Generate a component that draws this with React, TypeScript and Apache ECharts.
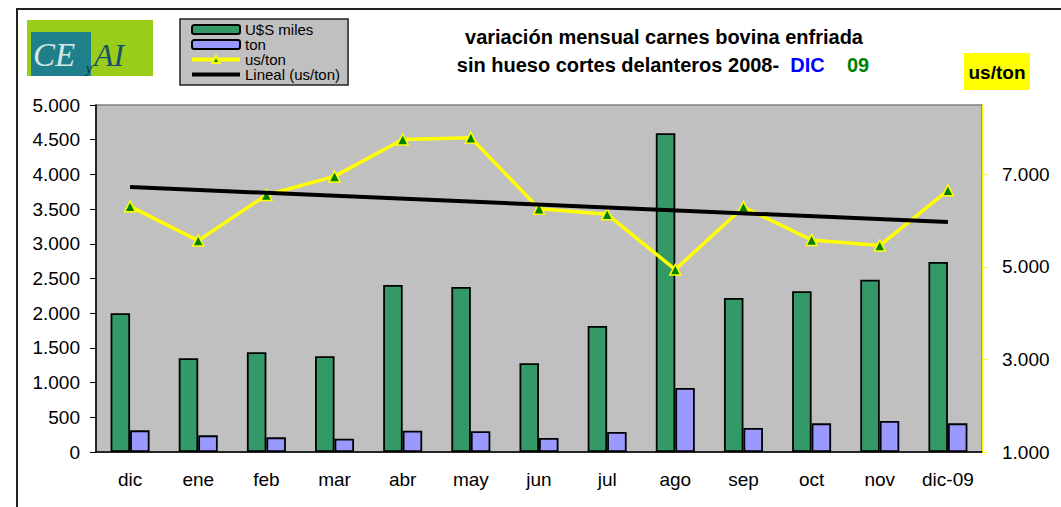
import React, { useEffect, useRef } from "react";
import * as echarts from "echarts";

const categories = ["dic", "ene", "feb", "mar", "abr", "may", "jun", "jul", "ago", "sep", "oct", "nov", "dic-09"];
const usdMiles = [2000, 1350, 1437, 1379, 2406, 2378, 1278, 1816, 4592, 2219, 2316, 2483, 2738];
const tons = [312, 240, 211, 192, 307, 298, 202, 288, 922, 346, 413, 447, 413];
const usPerTon = [6310, 5569, 6554, 6957, 7756, 7793, 6260, 6137, 4943, 6295, 5583, 5461, 6655];
const trendLine = [6727, null, null, null, null, null, null, null, null, null, null, null, 5971];

const titleLine1 = "variación mensual carnes bovina enfriada";
const titleLine2 = "sin hueso cortes delanteros 2008-";
const titleMonth = "DIC";
const titleYear = "09";
const unitLabel = "us/ton";

const FONT = "'Liberation Sans', Arial, sans-serif";
const SERIF = "'Liberation Serif', 'DejaVu Serif', serif";

function fmt(v: number): string {
  if (v >= 1000) {
    const th = Math.floor(v / 1000);
    const rest = String(v % 1000).padStart(3, "0");
    return th + "." + rest;
  }
  return String(v);
}

export default function App() {
  const ref = useRef<HTMLDivElement>(null);
  useEffect(() => {
    if (!ref.current) return;
    const chart = echarts.init(ref.current, undefined, { renderer: "svg" });
    chart.setOption({
      animation: false,
      backgroundColor: "#ffffff",
      textStyle: { fontFamily: FONT },
      grid: {
        left: 96,
        top: 105,
        right: 79,
        bottom: 55,
        show: true,
        backgroundColor: "#C0C0C0",
        borderColor: "#808080",
        borderWidth: 1.5,
      },
      legend: {
        orient: "vertical",
        left: 180,
        top: 19,
        itemWidth: 48,
        itemHeight: 9,
        itemGap: 0,
        padding: [3, 8, 3, 10],
        backgroundColor: "#C0C0C0",
        borderColor: "#222",
        borderWidth: 1.5,
        lineStyle: { width: 4 },
        textStyle: { fontFamily: FONT, fontSize: 15, color: "#000", lineHeight: 15 },
        data: [
          { name: "U$S miles" },
          { name: "ton" },
          { name: "us/ton", lineStyle: { width: 4, color: "#FFFF00" } },
          {
            name: "Lineal (us/ton)",
            lineStyle: { width: 4, color: "#000" },
            itemStyle: { color: "rgba(0,0,0,0)", borderColor: "rgba(0,0,0,0)", borderWidth: 0 },
          },
        ],
      },
      xAxis: {
        type: "category",
        data: categories,
        boundaryGap: true,
        axisLine: { lineStyle: { color: "#000", width: 1.5 } },
        axisTick: { length: 6, lineStyle: { color: "#000" } },
        axisLabel: { fontSize: 19, color: "#000", margin: 18, fontFamily: FONT },
        splitLine: { show: false },
      },
      yAxis: [
        {
          type: "value",
          min: 0,
          max: 5000,
          interval: 500,
          axisLine: { show: true, lineStyle: { color: "#000", width: 1.5 } },
          axisTick: { show: true, length: 6, lineStyle: { color: "#000" } },
          axisLabel: { fontSize: 19, color: "#000", margin: 16, fontFamily: FONT, formatter: (v: number) => fmt(v) },
          splitLine: { show: false },
        },
        {
          type: "value",
          position: "right",
          min: 1000,
          max: 8500,
          interval: 2000,
          axisLine: { show: true, lineStyle: { color: "#FFFF00", width: 1 } },
          axisTick: { show: true, length: 6, lineStyle: { color: "#FFFF00" } },
          axisLabel: {
            fontSize: 19,
            color: "#000",
            margin: 20,
            fontFamily: FONT,
            showMaxLabel: false,
            formatter: (v: number) => (v === 8500 ? "" : fmt(v)),
          },
          splitLine: { show: false },
        },
      ],
      series: [
        {
          name: "U$S miles",
          type: "bar",
          yAxisIndex: 0,
          data: usdMiles,
          barWidth: 19.5,
          barGap: "0%",
          itemStyle: { color: "#339966", borderColor: "#000", borderWidth: 1.8 },
          z: 2,
        },
        {
          name: "ton",
          type: "bar",
          yAxisIndex: 0,
          data: tons,
          barWidth: 19.5,
          barGap: "0%",
          itemStyle: { color: "#9999FF", borderColor: "#000", borderWidth: 1.8 },
          z: 2,
        },
        {
          name: "us/ton",
          type: "line",
          yAxisIndex: 1,
          data: usPerTon,
          symbol: "triangle",
          symbolSize: 11,
          lineStyle: { color: "#FFFF00", width: 3.5 },
          itemStyle: { color: "#008000", borderColor: "#FFFF00", borderWidth: 1.5 },
          z: 4,
        },
        {
          name: "Lineal (us/ton)",
          type: "line",
          yAxisIndex: 1,
          data: trendLine,
          connectNulls: true,
          symbol: "none",
          lineStyle: { color: "#000", width: 4 },
          itemStyle: { color: "#000" },
          z: 5,
        },
      ],
      graphic: [
        {
          type: "rect",
          shape: { x: 17, y: 9, width: 1100, height: 600 },
          style: { fill: "none", stroke: "#222", lineWidth: 2 },
          silent: true,
          z: 0,
        },
        {
          type: "rect",
          shape: { x: 27, y: 20, width: 126, height: 56 },
          style: { fill: "#9ACD1A" },
          z: 1,
        },
        {
          type: "rect",
          shape: { x: 31, y: 32, width: 60, height: 44 },
          style: { fill: "#1F7F8A" },
          z: 1,
        },
        {
          type: "text",
          x: 33,
          y: 55,
          style: {
            text: "CE",
            fontFamily: SERIF,
            fontStyle: "italic",
            fontSize: 33,
            fill: "#D5E6E6",
            verticalAlign: "middle",
          },
          z: 3,
        },
        {
          type: "text",
          x: 86,
          y: 68,
          style: {
            text: "y",
            fontFamily: SERIF,
            fontStyle: "italic",
            fontSize: 14,
            fill: "#08302F",
            verticalAlign: "middle",
          },
          z: 3,
        },
        {
          type: "text",
          x: 94,
          y: 55,
          style: {
            text: "AI",
            fontFamily: SERIF,
            fontStyle: "italic",
            fontSize: 32,
            fill: "#18506A",
            verticalAlign: "middle",
          },
          z: 3,
        },
        {
          type: "text",
          x: 664,
          y: 37,
          style: {
            text: titleLine1,
            fontFamily: FONT,
            fontWeight: "bold",
            fontSize: 20,
            fill: "#000",
            align: "center",
            verticalAlign: "middle",
          },
        },
        {
          type: "text",
          x: 663,
          y: 65,
          style: {
            text: "{a|" + titleLine2 + "  }{b|" + titleMonth + "}{a|    }{c|" + titleYear + "}",
            align: "center",
            verticalAlign: "middle",
            rich: {
              a: { fontFamily: FONT, fontWeight: "bold", fontSize: 20, fill: "#000", color: "#000" },
              b: { fontFamily: FONT, fontWeight: "bold", fontSize: 20, fill: "#0000FF", color: "#0000FF" },
              c: { fontFamily: FONT, fontWeight: "bold", fontSize: 20, fill: "#008000", color: "#008000" },
            },
          },
        },
        {
          type: "rect",
          shape: { x: 964, y: 53, width: 66, height: 37 },
          style: { fill: "#FFFF00" },
        },
        {
          type: "text",
          x: 997,
          y: 72,
          style: {
            text: unitLabel,
            fontFamily: FONT,
            fontWeight: "bold",
            fontSize: 19,
            fill: "#000",
            align: "center",
            verticalAlign: "middle",
          },
        },
      ],
    });
    return () => chart.dispose();
  }, []);
  return (
    <div
      ref={ref}
      style={{ position: "absolute", left: 0, top: 0, width: 1061, height: 507 }}
    />
  );
}
